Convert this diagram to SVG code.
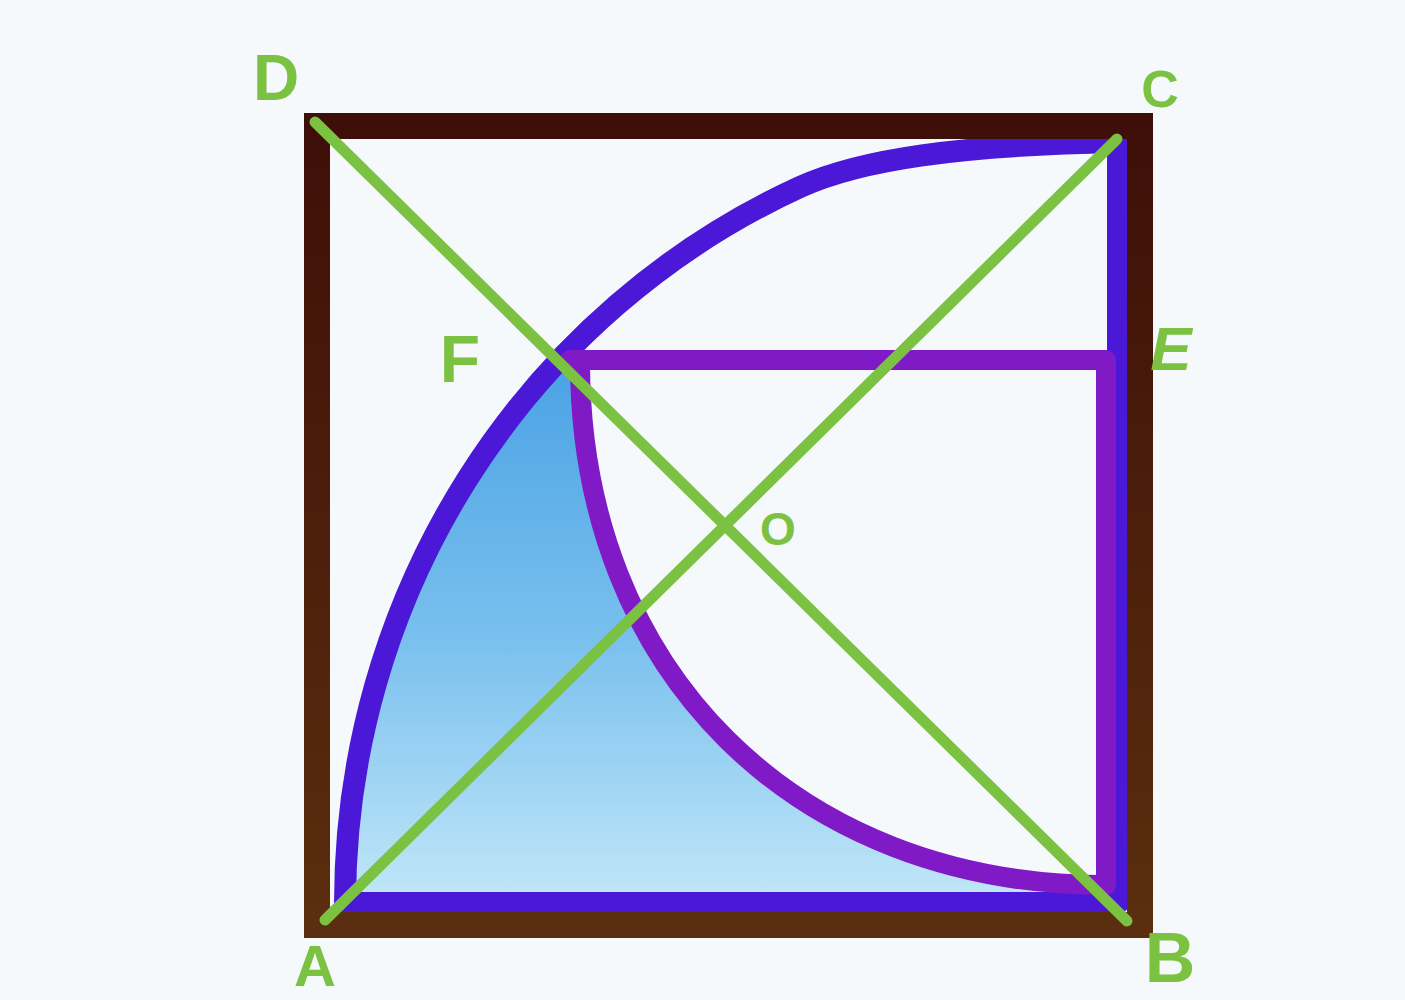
<svg xmlns="http://www.w3.org/2000/svg" width="1405" height="1000" viewBox="0 0 1405 1000">
<style>
.outer{fill:none;stroke:#4a18d6;stroke-width:22;stroke-linejoin:round;stroke-linecap:round}
.purple{fill:none;stroke:#8019c6;stroke-width:20;stroke-linejoin:round;stroke-linecap:round}
.sq{fill:none;stroke:url(#brown);stroke-width:26;stroke-linejoin:miter}
.diag{stroke:#7cc242;stroke-width:11;stroke-linecap:round}
.lbl{font-family:"Liberation Sans",Arial,sans-serif;font-weight:bold;fill:#7cc242;text-anchor:middle}
</style>
<defs>
<linearGradient id="blue" x1="0" y1="360" x2="0" y2="905" gradientUnits="userSpaceOnUse">
<stop offset="0" stop-color="#4aa2e4"/>
<stop offset="0.5" stop-color="#78bfee"/>
<stop offset="1" stop-color="#c2e7f8"/>
</linearGradient>
<linearGradient id="brown" x1="0" y1="0" x2="0" y2="1">
<stop offset="0" stop-color="#3e0f08"/>
<stop offset="1" stop-color="#5a2e0e"/>
</linearGradient>
</defs>
<rect width="1405" height="1000" fill="#f5f9fc"/>
<g id="shading">
<path d="M345,903 A773,786 0 0 1 559,360 L580,362 C580,671 796,885 1108,885 L1108,903 Z" fill="url(#blue)"/>
</g>
<g id="quarter-circle">
<path class="outer" d="M345,903 A773,786 0 0 1 800,187 C860,159.5 960,145 1118,142 L1118,903 Z"/>
</g>
<g id="rectangle">
<path class="purple" d="M570,360 L1106,360 L1106,885"/>
<path class="purple" d="M580,362 C580,671 796,885 1106,885"/>
</g>
<g id="square">
<rect class="sq" x="317" y="126" width="823" height="799"/>
</g>
<g id="connectors">
<line class="diag" x1="315" y1="122" x2="1127" y2="921"/>
<line class="diag" x1="1117" y1="139" x2="325" y2="920"/>
</g>
<g id="point-D"><text class="lbl" x="276" y="100" font-size="64">D</text></g>
<g id="point-C"><text class="lbl" x="1160" y="107" font-size="52">C</text></g>
<g id="point-F"><text class="lbl" x="460" y="382" font-size="66">F</text></g>
<g id="point-E"><text class="lbl" x="1171" y="370" font-size="62" font-style="italic">E</text></g>
<g id="point-O"><text class="lbl" x="778" y="545" font-size="46">O</text></g>
<g id="point-A"><text class="lbl" x="315" y="986" font-size="58">A</text></g>
<g id="point-B"><text class="lbl" x="1170" y="982" font-size="70">B</text></g>
</svg>
